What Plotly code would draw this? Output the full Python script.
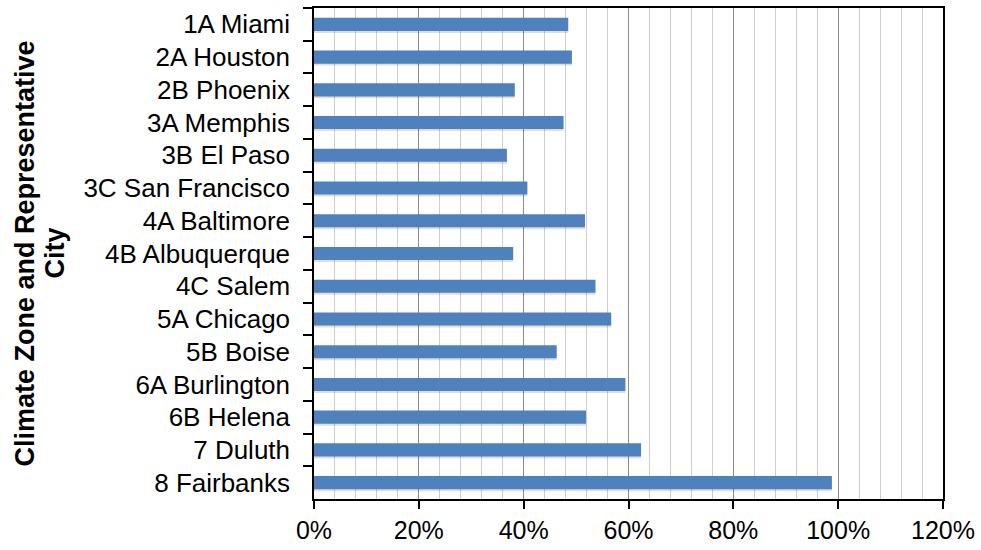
import plotly.graph_objects as go

cities = ["1A Miami", "2A Houston", "2B Phoenix", "3A Memphis", "3B El Paso",
          "3C San Francisco", "4A Baltimore", "4B Albuquerque", "4C Salem",
          "5A Chicago", "5B Boise", "6A Burlington", "6B Helena", "7 Duluth",
          "8 Fairbanks"]
values = [0.485, 0.492, 0.383, 0.476, 0.368, 0.407, 0.517, 0.380, 0.537,
          0.567, 0.463, 0.594, 0.519, 0.624, 0.988]
x_tickvals = [0, 0.2, 0.4, 0.6, 0.8, 1.0, 1.2]
x_ticktext = ["0%", "20%", "40%", "60%", "80%", "100%", "120%"]
title_lines = ["Climate Zone and Representative", "City"]

FONT = "Liberation Sans, Arial, sans-serif"

fig = go.Figure()
# soft drop shadow under the bars
fig.add_trace(go.Bar(
    y=cities, x=values, orientation="h",
    width=0.4, offset=-0.14,
    marker=dict(color="rgba(0,0,0,0.13)", line=dict(width=0)),
    hoverinfo="skip", showlegend=False,
))
fig.add_trace(go.Bar(
    y=cities, x=values, orientation="h",
    width=0.4, offset=-0.2,
    marker=dict(color="#4F81BD", line=dict(width=0)),
    showlegend=False,
))

fig.update_layout(
    width=981, height=550,
    margin=dict(l=314, r=36, t=6, b=38),
    paper_bgcolor="white", plot_bgcolor="white",
    barmode="overlay",
    font=dict(family=FONT, color="black", size=25),
    showlegend=False,
)
fig.update_xaxes(
    range=[0, 1.2],
    tickvals=x_tickvals, ticktext=x_ticktext,
    showgrid=True, gridcolor="#8c8c8c", gridwidth=1,
    minor=dict(dtick=0.04, tick0=0, showgrid=True, gridcolor="#cfcfcf", gridwidth=1),
    showline=True, linecolor="black", linewidth=1.5, mirror=True,
    ticks="outside", ticklen=8, tickcolor="black", tickwidth=1.5,
    tickfont=dict(size=25, family=FONT),
    zeroline=False,
)
fig.update_yaxes(
    autorange="reversed",
    showgrid=False,
    showline=True, linecolor="black", linewidth=1.5, mirror=True,
    ticks="outside", ticklen=9, tickcolor="black", tickwidth=1.5,
    tickson="boundaries",
    tickfont=dict(size=26, family=FONT),
    ticklabelstandoff=17,
)
for i, line in enumerate(title_lines):
    fig.add_annotation(
        text="<b>" + line + "</b>",
        xref="paper", yref="paper", x=0, y=0.5,
        xshift=-290 + 30 * i,
        xanchor="center", yanchor="middle", textangle=-90,
        showarrow=False, font=dict(size=27, family=FONT, color="black"),
    )

fig.write_html("out.html")
